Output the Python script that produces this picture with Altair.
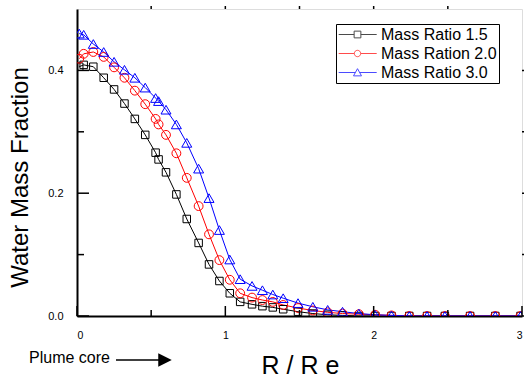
import altair as alt
import pandas as pd

# ---------------- data ----------------
r_over_re = [0.015, 0.045, 0.11, 0.18, 0.25, 0.32, 0.39, 0.46, 0.53, 0.55, 0.60, 0.67,
             0.74, 0.82, 0.89, 0.96, 1.03, 1.10, 1.18, 1.25, 1.32, 1.39, 1.49, 1.59,
             1.69, 1.79, 1.90, 2.01, 2.12, 2.24, 2.36, 2.48, 2.65, 2.82, 2.99]
mass_ratio_15 = [0.406, 0.409, 0.406, 0.388, 0.369, 0.346, 0.321, 0.295, 0.266, 0.255, 0.234, 0.198,
                 0.158, 0.119, 0.084, 0.057, 0.037, 0.023, 0.019, 0.016, 0.014, 0.011, 0.007, 0.004,
                 0.002, 0.001, 0.0, 0.0, 0.0, 0.0, 0.0, 0.0, 0.0, 0.0, 0.0]
mass_ratio_20 = [0.419, 0.427, 0.430, 0.422, 0.405, 0.388, 0.367, 0.345, 0.321, 0.312, 0.295, 0.265,
                 0.225, 0.179, 0.133, 0.091, 0.059, 0.037, 0.030, 0.026, 0.023, 0.018, 0.013, 0.009,
                 0.006, 0.004, 0.003, 0.002, 0.001, 0.0, 0.0, 0.0, 0.0, 0.0, 0.0]
mass_ratio_30 = [0.460, 0.458, 0.443, 0.430, 0.414, 0.401, 0.388, 0.372, 0.355, 0.350, 0.336, 0.312,
                 0.282, 0.240, 0.192, 0.140, 0.092, 0.060, 0.049, 0.042, 0.035, 0.029, 0.021, 0.015,
                 0.010, 0.007, 0.004, 0.002, 0.001, 0.0, 0.0, 0.0, 0.0, 0.0, 0.0]
series_names = ["Mass Ratio 1.5", "Mass Ration 2.0", "Mass Ratio 3.0"]
series_colors = ["#000000", "#ff0000", "#0000ff"]
series_shapes = ["square", "circle", "triangle-up"]
series_sizes = [56, 100, 132]

x_major_ticks = [0, 1, 2, 3]
x_minor_ticks = [0.5, 1.5, 2.5]
x_top_ticks = [0.5, 1.0, 1.5, 2.0, 2.5]
y_major_ticks = [0.0, 0.2, 0.4]
y_minor_ticks = [0.1, 0.3]
y_right_ticks = [0.0, 0.1, 0.2, 0.3, 0.4]
annotation_text = ["Plume core"]

# legend symbols: line with marker centred (unit coords, scaled by sqrt(symbolSize)/2)
legend_paths = [
    "M-2.35,0L-0.42,0M0.42,0L2.4,0M-0.42,-0.42L0.42,-0.42L0.42,0.42L-0.42,0.42Z",
    "M-2.35,0L-0.4,0M0.4,0L2.4,0M-0.4,0A0.4,0.4 0 1,0 0.4,0A0.4,0.4 0 1,0 -0.4,0Z",
    "M-2.35,0L-0.27,0M0.27,0L2.4,0M0,-0.48L0.5,0.42L-0.5,0.42Z",
]

rows = []
for name, vals in zip(series_names, [mass_ratio_15, mass_ratio_20, mass_ratio_30]):
    for i, (xv, yv) in enumerate(zip(r_over_re, vals)):
        rows.append({"series": name, "x": xv, "y": yv, "order": i})
df = pd.DataFrame(rows)

W, H = 445, 307
FONT = "Arial, 'Liberation Sans', sans-serif"

xscale = alt.Scale(domain=[0, 3], nice=False, zero=False)
yscale = alt.Scale(domain=[0, 0.5], nice=False, zero=False)
color_scale = alt.Scale(domain=series_names, range=series_colors)

x_axis = alt.Axis(
    values=x_major_ticks, format="d", ticks=False, tickSize=0, grid=False,
    labelPadding=14, labelFontSize=10.5, labelFont=FONT, labelColor="black",
    domainWidth=2, domainColor="black",
    title="R / R e", titleFont=FONT, titleFontSize=25, titleFontWeight="normal",
    titleColor="black", titleY=57, titleX=223, titleAlign="center",
    titleBaseline="alphabetic")
y_axis = alt.Axis(
    values=y_major_ticks, format=".1f", ticks=False, tickSize=0, grid=False,
    labelPadding=14, labelFontSize=11, labelFont=FONT, labelColor="black",
    domainWidth=2, domainColor="black",
    title="Water Mass Fraction", titleFont=FONT, titleFontSize=24,
    titleFontWeight="normal", titleColor="black", titleX=-57, titleY=168,
    titleAlign="center", titleBaseline="middle", titleAngle=270)

x_enc = alt.X("x:Q", scale=xscale, axis=x_axis)
y_enc = alt.Y("y:Q", scale=yscale, axis=y_axis)

lines = alt.Chart(df).mark_line(strokeWidth=1, clip=True).encode(
    x=x_enc, y=y_enc,
    color=alt.Color("series:N", scale=color_scale, legend=None),
    detail="series:N",
    order="order:Q",
)

points = alt.Chart(df).mark_point(filled=False, strokeWidth=1, clip=True, opacity=1).encode(
    x=x_enc, y=y_enc,
    color=alt.Color("series:N", scale=color_scale, legend=None),
    shape=alt.Shape("series:N", scale=alt.Scale(domain=series_names, range=series_shapes), legend=None),
    size=alt.Size("series:O", scale=alt.Scale(domain=series_names, range=series_sizes), legend=None),
)

legend_props = dict(
    orient="none", legendX=259, legendY=15, title=None, padding=2, rowPadding=2,
    strokeColor="black", fillColor="white", cornerRadius=0,
    symbolSize=256, symbolStrokeWidth=1, symbolOffset=11,
    labelFontSize=16, labelFont=FONT, labelColor="black", labelOffset=15,
)
legend_layer = alt.Chart(df).transform_filter("datum.x < -1").mark_point(
    filled=False, strokeWidth=1).encode(
    x=x_enc, y=y_enc,
    stroke=alt.Stroke("series:N", scale=alt.Scale(domain=series_names, range=series_colors),
                      legend=alt.Legend(**legend_props)),
    shape=alt.Shape("series:N", scale=alt.Scale(domain=series_names, range=legend_paths),
                    legend=alt.Legend(**legend_props)),
)

def vrules(vals, y0, y1):
    return alt.Chart(pd.DataFrame({"x": vals})).mark_rule(color="black", strokeWidth=1.5).encode(
        x=x_enc, y=alt.value(y0), y2=alt.value(y1))

def hrules(vals, x0, x1):
    return alt.Chart(pd.DataFrame({"y": vals})).mark_rule(color="black", strokeWidth=1.5).encode(
        y=y_enc, x=alt.value(x0), x2=alt.value(x1))

ticks = [
    vrules(x_major_ticks, H, H - 10),
    vrules(x_minor_ticks, H, H - 6),
    vrules(x_top_ticks, 0, -3),
    hrules(y_major_ticks, 0, 12),
    hrules(y_minor_ticks, 0, 7),
    hrules(y_right_ticks, W, W + 6),
]

ann_df = pd.DataFrame({"label": annotation_text})
ann_text = alt.Chart(ann_df).mark_text(
    align="left", baseline="alphabetic", fontSize=16, font=FONT, color="black").encode(
    text="label:N", x=alt.value(-48), y=alt.value(354))
arrow_line = alt.Chart(ann_df).mark_rule(color="black", strokeWidth=1.5).encode(
    x=alt.value(39), x2=alt.value(84), y=alt.value(351))
arrow_head = alt.Chart(ann_df).mark_point(
    shape="M-1,-1L1,0L-1,1Z", filled=True, color="black", size=182, opacity=1).encode(
    x=alt.value(88), y=alt.value(351))

chart = alt.layer(
    lines, points, legend_layer, *ticks, ann_text, arrow_line, arrow_head
).resolve_scale(
    shape="independent", stroke="independent"
).properties(
    width=W, height=H,
    autosize=alt.AutoSizeParams(type="none"),
    padding={"left": 77, "top": 9, "right": 2, "bottom": 61},
).configure_view(
    stroke="black", strokeWidth=1.5
).configure(background="white")

chart.save("out.html", embed_options={"renderer": "svg", "actions": False})
